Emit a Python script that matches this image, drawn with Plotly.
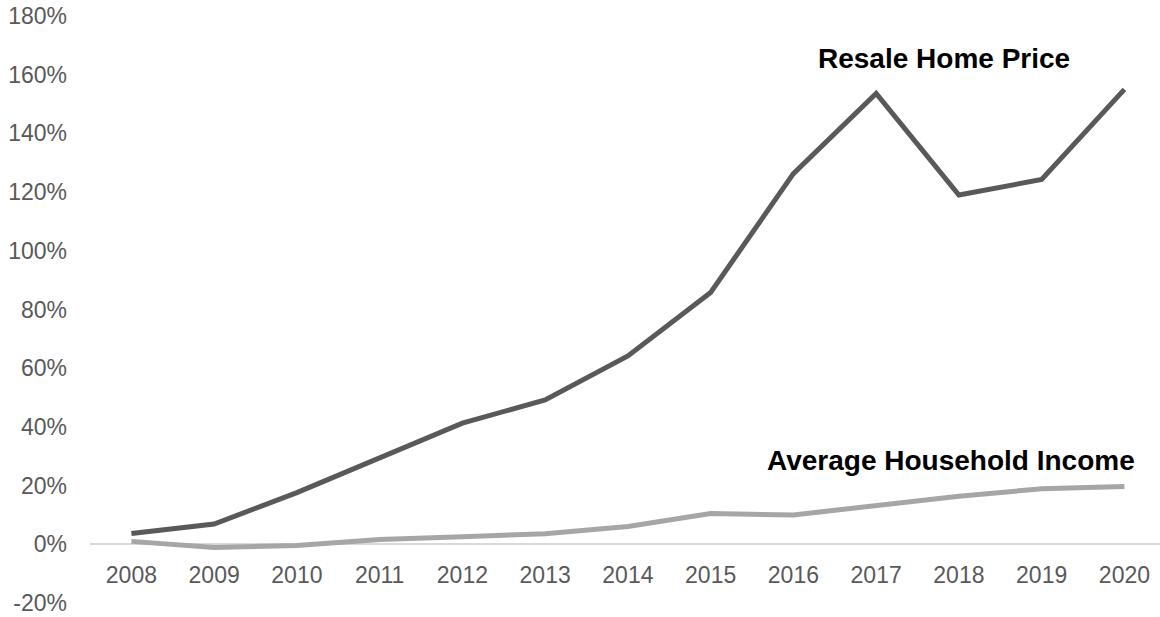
import plotly.graph_objects as go

years = ["2008", "2009", "2010", "2011", "2012", "2013", "2014", "2015", "2016", "2017", "2018", "2019", "2020"]
resale_home_price = [3.7, 6.9, 17.6, 29.6, 41.3, 49.2, 64.2, 85.8, 126.3, 153.6, 119.0, 124.3, 155.0]
avg_household_income = [1.0, -1.1, -0.4, 1.6, 2.6, 3.6, 6.1, 10.5, 10.0, 13.4, 16.4, 18.9, 19.7]
y_ticks = [-20, 0, 20, 40, 60, 80, 100, 120, 140, 160, 180]
y_tick_labels = ["-20%", "0%", "20%", "40%", "60%", "80%", "100%", "120%", "140%", "160%", "180%"]

fig = go.Figure()
fig.add_trace(go.Scatter(x=years, y=avg_household_income, mode="lines",
                         line=dict(color="#A6A6A6", width=5), name="Average Household Income"))
fig.add_trace(go.Scatter(x=years, y=resale_home_price, mode="lines",
                         line=dict(color="#595959", width=5), name="Resale Home Price"))

fig.add_annotation(x=9.82, y=165.6, text="<b>Resale Home Price</b>", showarrow=False,
                   font=dict(family="Liberation Sans, Arial", size=28, color="#000000"))
fig.add_annotation(x=9.91, y=28.6, text="<b>Average Household Income</b>", showarrow=False,
                   font=dict(family="Liberation Sans, Arial", size=28, color="#000000"))

fig.update_layout(
    width=1160, height=617,
    margin=dict(l=90, r=0, t=16, b=14, autoexpand=False),
    paper_bgcolor="white", plot_bgcolor="white",
    showlegend=False,
    font=dict(family="Liberation Sans, Arial", size=23, color="#595959"),
)
fig.update_xaxes(type="category", range=[-0.5, 12.43], showgrid=False, showline=False,
                 ticks="", tickfont=dict(size=23, color="#595959"), automargin=False,
                 anchor="free", position=0.1, ticklabelstandoff=15)
fig.update_yaxes(range=[-20, 180], tickvals=y_ticks, ticktext=y_tick_labels,
                 showgrid=False, zeroline=True, zerolinecolor="#D9D9D9", zerolinewidth=2,
                 showline=False, ticks="", tickfont=dict(size=23, color="#595959"),
                 automargin=False, ticklabelstandoff=22, ticklabeloverflow="allow")

fig.write_html("out.html")
